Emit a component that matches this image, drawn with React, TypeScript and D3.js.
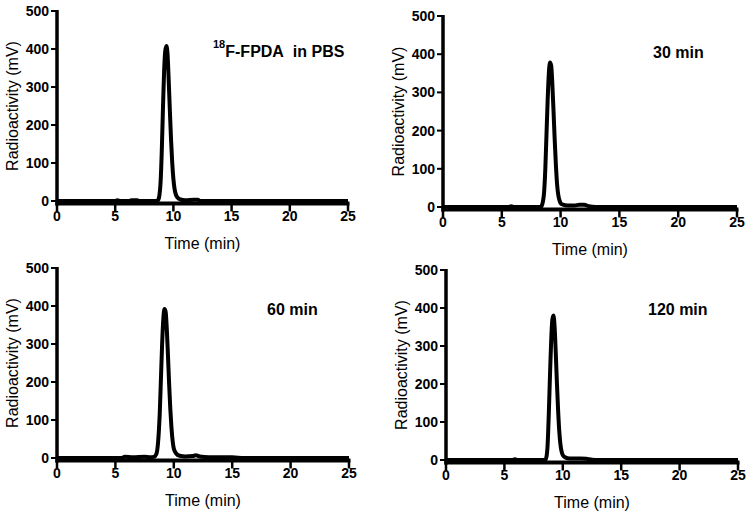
import * as d3 from 'd3';
import * as React from 'react';

// chromatogram traces: [time (min), radioactivity (mV)]
const pbsTrace: [number, number][] = [
  [0, 0], [5.0, 0], [5.2, 2], [5.4, 0], [6.2, 0], [6.4, 2], [6.9, 2], [7.0, 0], [8.6, 0],
  [8.7, 3], [8.8, 15], [8.9, 50], [9.0, 130], [9.1, 240], [9.2, 340], [9.3, 395], [9.4, 408],
  [9.5, 385], [9.6, 315], [9.7, 235], [9.8, 160], [9.9, 100], [10.0, 58], [10.1, 32],
  [10.2, 18], [10.35, 9], [10.6, 4], [11.0, 2], [11.8, 3], [12.1, 3], [12.3, 0], [25, 0],
];
const min30Trace: [number, number][] = [
  [0, 0], [5.6, 0], [5.8, 2], [6.0, 0], [8.3, 0], [8.45, 8], [8.6, 40], [8.7, 100],
  [8.8, 190], [8.9, 280], [9.0, 350], [9.1, 378], [9.2, 370], [9.3, 320], [9.4, 250],
  [9.5, 175], [9.6, 110], [9.7, 60], [9.8, 32], [9.9, 18], [10.0, 10], [10.2, 6], [10.6, 4],
  [11.2, 4], [11.6, 6], [12.0, 6], [12.4, 2], [13, 0], [25, 0],
];
const min60Trace: [number, number][] = [
  [0, 0], [5.5, 0], [5.8, 3], [6.5, 2], [7.5, 3], [8.0, 2], [8.3, 3], [8.5, 10], [8.65, 40],
  [8.8, 120], [8.9, 210], [9.0, 300], [9.1, 365], [9.2, 392], [9.3, 385], [9.4, 340],
  [9.5, 270], [9.6, 195], [9.7, 130], [9.8, 80], [9.9, 45], [10.0, 25], [10.2, 12],
  [10.5, 6], [11.0, 4], [11.6, 5], [11.9, 7], [12.2, 4], [13, 2], [15, 2], [16, 0], [25, 0],
];
const min120Trace: [number, number][] = [
  [0, 0], [5.7, 0], [5.9, 2], [6.1, 0], [8.5, 0], [8.6, 8], [8.7, 40], [8.8, 120],
  [8.9, 220], [9.0, 310], [9.1, 368], [9.2, 380], [9.3, 350], [9.4, 280], [9.5, 200],
  [9.6, 130], [9.7, 75], [9.8, 40], [9.9, 22], [10.0, 13], [10.2, 7], [10.6, 4], [11.5, 4],
  [12.0, 3], [12.5, 1], [13, 0], [25, 0],
];

const xTicks = [0, 5, 10, 15, 20, 25];
const yTicks = [0, 100, 200, 300, 400, 500];
const xLabel = 'Time (min)';
const yLabel = 'Radioactivity (mV)';

interface IPanel {
  trace: [number, number][];
  label: string;
  sup?: string;
  left: number;
  right: number;
  top: number;
  bottom: number;
  labelX: number;
  labelY: number;
}

const panels: IPanel[] = [
  { trace: pbsTrace, sup: '18', label: 'F-FPDA\u00a0\u00a0in PBS', left: 57, right: 348, top: 11, bottom: 201, labelX: 213, labelY: 57 },
  { trace: min30Trace, label: '30 min', left: 443, right: 737, top: 16, bottom: 207, labelX: 653, labelY: 58 },
  { trace: min60Trace, label: '60 min', left: 57, right: 349, top: 268, bottom: 458, labelX: 267, labelY: 315 },
  { trace: min120Trace, label: '120 min', left: 446, right: 738, top: 270, bottom: 460, labelX: 648, labelY: 315 },
];

const font = '"Liberation Sans", Arial, sans-serif';

const Panel = ({ p }: { p: IPanel }) => {
  const x = d3.scaleLinear().domain([0, 25]).range([p.left, p.right]);
  const y = d3.scaleLinear().domain([0, 500]).range([p.bottom, p.top]);
  const line = d3.line<[number, number]>()
    .x(d => x(d[0]))
    .y(d => y(d[1]))
    .curve(d3.curveMonotoneX);
  const axisY = p.bottom + 2.5;

  return (
    <g fontFamily={font}>
      <path d={line(p.trace) || ''} fill='none' stroke='#000' strokeWidth={4} strokeLinejoin='round' />

      {/* y axis */}
      <line x1={p.left} x2={p.left} y1={p.top - 1} y2={axisY + 2} stroke='#000' strokeWidth={3.5} />
      {yTicks.map(t => (
        <g key={t}>
          <line x1={p.left - 6} x2={p.left} y1={y(t)} y2={y(t)} stroke='#000' strokeWidth={2} />
          <text x={p.left - 8} y={y(t)} dy='0.36em' textAnchor='end' fontSize={14} fontWeight='bold'>{t}</text>
        </g>
      ))}
      <text
        transform={`translate(${p.left - 45},${(p.top + p.bottom) / 2}) rotate(-90)`}
        textAnchor='middle'
        dy='0.36em'
        fontSize={16}
      >
        {yLabel}
      </text>

      {/* x axis */}
      <line x1={p.left - 1.5} x2={p.right + 1.5} y1={axisY} y2={axisY} stroke='#000' strokeWidth={4} />
      {xTicks.map(t => (
        <g key={t}>
          <line x1={x(t)} x2={x(t)} y1={axisY} y2={axisY + 8} stroke='#000' strokeWidth={2.5} />
          <text x={x(t)} y={p.bottom + 20} textAnchor='middle' fontSize={14} fontWeight='bold'>{t}</text>
        </g>
      ))}
      <text x={(p.left + p.right) / 2} y={p.bottom + 48} textAnchor='middle' fontSize={16}>{xLabel}</text>

      <text x={p.labelX} y={p.labelY} fontSize={16} fontWeight='bold'>
        {p.sup ? <tspan fontSize={11} dy={-9}>{p.sup}</tspan> : null}
        <tspan dy={p.sup ? 9 : 0}>{p.label}</tspan>
      </text>
    </g>
  );
};

export default function App() {
  return (
    <svg width={750} height={516} style={{ position: 'absolute', left: 0, top: 0, background: '#fff' }}>
      <rect width={750} height={516} fill='#fff' />
      {panels.map((p, i) => <Panel key={i} p={p} />)}
    </svg>
  );
}
